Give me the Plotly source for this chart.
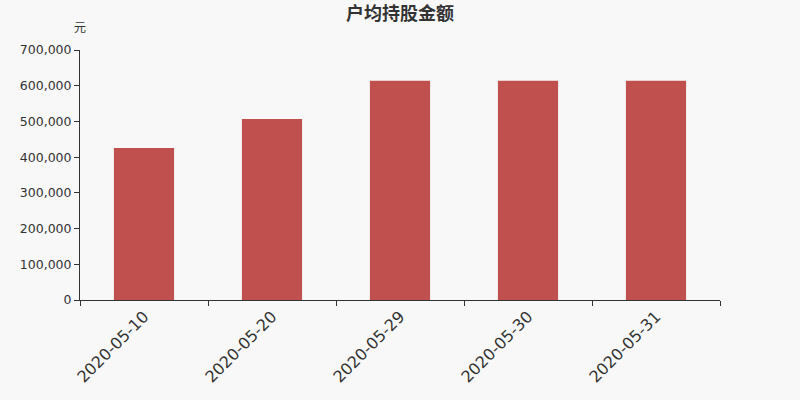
import plotly.graph_objects as go

dates = ["2020-05-10", "2020-05-20", "2020-05-29", "2020-05-30", "2020-05-31"]
values = [425600, 506500, 614000, 614000, 614000]

FONT = "DejaVu Sans, Noto Sans CJK SC"

fig = go.Figure()
fig.add_trace(go.Bar(
    x=dates, y=values,
    marker=dict(color="#c0504d", line=dict(width=0)),
    width=0.47,
))

fig.update_layout(
    width=800, height=400,
    paper_bgcolor="#f8f8f8", plot_bgcolor="#f8f8f8",
    margin=dict(l=80, r=80, t=50, b=100),
    font=dict(family=FONT, color="#333333"),
    title=dict(text="<b>户均持股金额</b>", x=0.5, xanchor="center", y=0.967, yanchor="middle",
               font=dict(family=FONT, size=18, color="#333333")),
    showlegend=False,
    annotations=[dict(text="元", xref="paper", yref="paper", x=0, y=1, xanchor="center",
                      yanchor="middle", yshift=22, showarrow=False,
                      font=dict(family=FONT, size=12, color="#333333"))],
)
fig.update_xaxes(
    type="category", tickson="boundaries", ticks="outside", ticklen=5, tickcolor="#333333",
    showline=True, linecolor="#333333", showgrid=False, tickangle=-45, automargin=False,
    tickfont=dict(family=FONT, size=16, color="#333333"),
)
fig.update_yaxes(
    range=[0, 700000], dtick=100000, tickformat=",d", ticks="outside", ticklen=5,
    tickcolor="#333333", showline=True, linecolor="#333333", showgrid=False, zeroline=False,
    automargin=False, tickfont=dict(family=FONT, size=12.5, color="#333333"),
)

# page body has a default 8px margin; drop it so the figure sits at the window origin
fig.write_html("out.html", config={"displayModeBar": False},
               post_script="document.body.style.margin='0';"
               "document.body.style.background='#f8f8f8';")
